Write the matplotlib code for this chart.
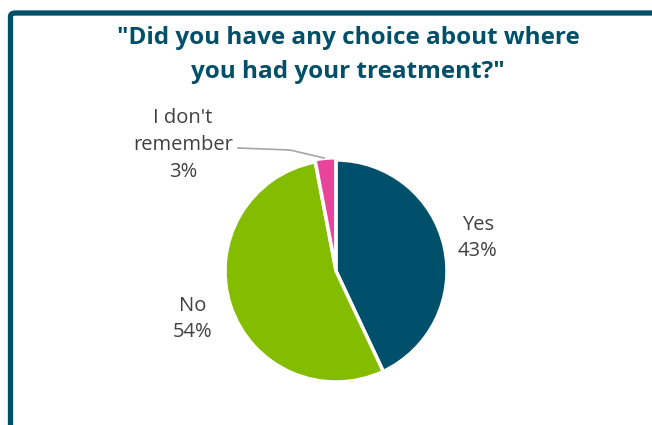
import matplotlib.pyplot as plt
from matplotlib.patches import FancyBboxPatch

categories = ["Yes", "No", "I don't\nremember"]
shares = [43, 54, 3]
colours = ["#00506B", "#84BD00", "#E8449A"]
title = "\"Did you have any choice about where\nyou had your treatment?\""

W, H = 652, 425
plt.rcParams["font.family"] = ["Open Sans", "DejaVu Sans"]
fig = plt.figure(figsize=(W / 100, H / 100), dpi=100)

# frame (only top and left edges visible in the crop)
frame = FancyBboxPatch((10.5 / W, -0.2), 1.2, (H - 13) / H + 0.2,
                       boxstyle="round,pad=0,rounding_size=0.008",
                       transform=fig.transFigure, fill=False,
                       edgecolor="#005069", linewidth=3.8, clip_on=False)
fig.patches.append(frame)

fig.text(348 / W, 1 - 55 / H, title, ha="center", va="center",
         fontsize=17.5, fontweight="bold", color="#005069", linespacing=1.5)

cx, cy, r = 336, 271, 111
ax = fig.add_axes([(cx - r) / W, (H - cy - r) / H, 2 * r / W, 2 * r / H])
ax.pie(shares, colors=colours, startangle=90, counterclock=False,
       explode=[0, 0, 0.02],
       wedgeprops=dict(edgecolor="white", linewidth=2.5, clip_on=False))
ax.set_xlim(-1, 1)
ax.set_ylim(-1, 1)
ax.axis("off")

label_pos = [(478, 238), (193, 319), (183, 145)]
for cat, val, (x, y) in zip(categories, shares, label_pos):
    fig.text(x / W, 1 - y / H, f"{cat}\n{val}%", ha="center", va="center",
             fontsize=14.5, color="#404040", linespacing=1.45)

# leader line for the small slice
fig.add_artist(plt.Line2D([238 / W, 290 / W, 324 / W],
                          [1 - 148 / H, 1 - 150 / H, 1 - 158 / H],
                          color="#A6A6A6", linewidth=1.2))

fig.savefig("out.png", dpi=100)
